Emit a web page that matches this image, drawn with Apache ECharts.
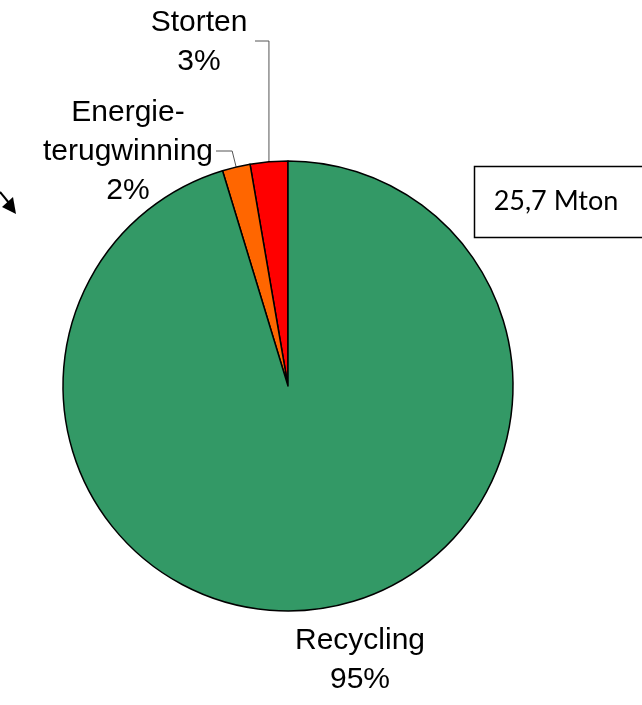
<!DOCTYPE html>
<html lang="nl">
<head>
    <meta charset="UTF-8">
    <title>Verwerking 25,7 Mton</title>
    <script src="https://cdn.jsdelivr.net/npm/echarts@6.0.0/dist/echarts.min.js"></script>
    <style>
        html, body { margin: 0; padding: 0; background: #fff; }
    </style>
</head>
<body>
    <div id="main" style="width: 642px;height:705px;"></div>

    <script>
        // data (aandelen in %)
        var categories = ['Storten', 'Energie-\nterugwinning', 'Recycling'];
        var shares = [2.7, 2.0, 95.3];
        var colors = ['#ff0000', '#ff6600', '#339966'];
        var totalText = '25,7 Mton';

        // plaats van de labels (midden van het tekstblok)
        var labelPos = [
            { x: 199, y: 42, lineEnd: 255 },
            { x: 128, y: 152, lineEnd: 216 },
            { x: 360, y: 660, lineEnd: null }
        ];

        var myChart = echarts.init(document.getElementById('main'));

        var option = {
            animation: false,
            series: [
                {
                    type: 'pie',
                    center: [288, 386],
                    radius: 225,
                    startAngle: 90,
                    clockwise: false,
                    data: categories.map(function (name, i) {
                        return {
                            name: name,
                            value: shares[i],
                            itemStyle: { color: colors[i] },
                            labelLine: { show: labelPos[i].lineEnd !== null }
                        };
                    }),
                    itemStyle: {
                        borderColor: '#000',
                        borderWidth: 1.5
                    },
                    label: {
                        show: true,
                        position: 'outside',
                        overflow: 'none',
                        formatter: function (p) {
                            return p.name + '\n' + Math.round(p.value) + '%';
                        },
                        fontFamily: 'Liberation Sans, Arial, sans-serif',
                        fontSize: 30,
                        lineHeight: 39,
                        color: '#000',
                        align: 'center'
                    },
                    labelLine: {
                        show: true,
                        lineStyle: { color: '#555', width: 1 }
                    },
                    labelLayout: function (params) {
                        var pos = labelPos[params.dataIndex];
                        var res = {
                            x: pos.x,
                            y: pos.y,
                            align: 'center',
                            verticalAlign: 'middle'
                        };
                        if (pos.lineEnd !== null && params.labelLinePoints) {
                            var edge = params.labelLinePoints[0];
                            var bendX = params.dataIndex === 1 ? edge[0] - 4 : edge[0];
                            res.labelLinePoints = [
                                edge,
                                [bendX, pos.y - 1],
                                [pos.lineEnd, pos.y - 1]
                            ];
                        }
                        return res;
                    },
                    emphasis: { disabled: true }
                }
            ],
            graphic: [
                {
                    type: 'rect',
                    shape: { x: 474.5, y: 166.5, width: 170, height: 71 },
                    style: { fill: '#fff', stroke: '#000', lineWidth: 1.5 }
                },
                {
                    type: 'text',
                    x: 556,
                    y: 201,
                    style: {
                        text: totalText,
                        font: '27px Lato, Carlito, sans-serif',
                        fill: '#000',
                        textAlign: 'center',
                        textVerticalAlign: 'middle'
                    }
                },
                // pijltje links
                {
                    type: 'line',
                    shape: { x1: 0, y1: 192, x2: 9, y2: 203 },
                    style: { stroke: '#000', lineWidth: 2 }
                },
                {
                    type: 'polygon',
                    shape: { points: [[16, 214], [2, 207], [13, 197]] },
                    style: { fill: '#000' }
                }
            ]
        };

        myChart.setOption(option);
    </script>
</body>
</html>
